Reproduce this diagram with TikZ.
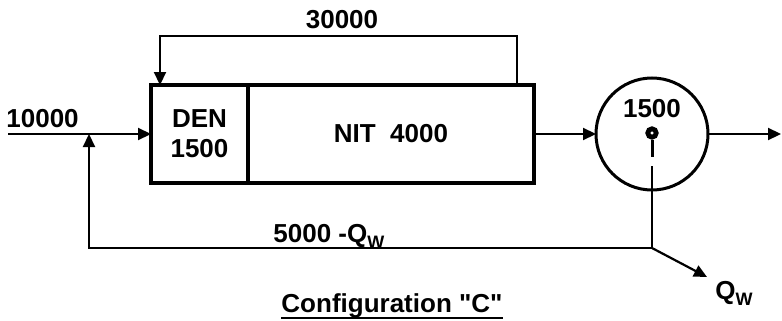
\documentclass[tikz,border=0pt]{standalone}
\usepackage{fontspec}
\newfontfamily\diafont{Liberation Sans}
\usetikzlibrary{positioning,arrows.meta,calc}
\newcommand{\subw}[1]{\raisebox{-0.45ex}{\fontsize{9}{9}\selectfont #1}}

\begin{document}
\begin{tikzpicture}[x=0.5pt, y=-0.5pt,
      tank/.style={draw, line width=1.7pt, outer sep=0pt, inner sep=0pt,
                   minimum height=49pt, align=center},
      clarifier/.style={draw, circle, line width=1.5pt, outer sep=0pt,
                        inner sep=0pt, minimum size=56pt},
      port/.style={draw, circle, fill=white, line width=2.4pt,
                   inner sep=0pt, minimum size=4.2pt},
      lbl/.style={inner sep=0pt},
      flow/.style={line width=1.1pt},
      every node/.style={font=\diafont\fontsize{13}{15}\selectfont\bfseries},
      >={Triangle[length=6.5pt, width=6pt]}]
    \useasboundingbox (0,0) rectangle (782,321);
    % reactor basins and clarifier
    \node[tank, minimum width=48.5pt] (den) at (199.5,134) {DEN\\1500};
    \node[tank, minimum width=143pt, right=0pt of den] (nit) {NIT~~4000};
    \node[clarifier] (clar) at (652,134) {};
    \node[lbl] (cvol) at (652,109) {1500};
    \node[port] (wd) at (652,133) {};
    % free ends and bends
    \coordinate (feed) at (8,134);
    \coordinate (junc) at (89,134);
    \coordinate (out) at (781,134);
    \coordinate (sl) at (652,166);
    \coordinate (split) at (652,248);
    \coordinate (waste) at (707,277);
    % flows
    \draw[flow, ->] (feed) -- (den.west);
    \draw[flow, ->] ($(nit.north east)+(-17,0)$) -- ++(0,-49)
      -| ($(den.north west)+(9,0)$);
    \draw[flow, ->] (nit.east) -- (clar.west);
    \draw[flow, ->] (clar.east) -- (out);
    \draw[line width=1.5pt] (wd.south) -- ++(0,17);
    \draw[flow, ->] (sl) -- (split) -| (junc);
    \draw[flow, ->] (split) -- (waste);
    % labels
    \node[lbl, anchor=base west] (qin) at (6,127) {10000};
    \node[lbl] (qr) at (342,20) {30000};
    \node[lbl, anchor=base west] (qret) at (273,242) {5000 -Q\subw{W}};
    \node[lbl, anchor=base west] (qw) at (715,299) {Q\subw{W}};
    \node[lbl, anchor=base] (title) at (392,312) {Configuration "C"};
    \draw[line width=1.1pt] ([yshift=-3pt]title.base west) -- ([yshift=-3pt]title.base east);
  \end{tikzpicture}
\end{document}
